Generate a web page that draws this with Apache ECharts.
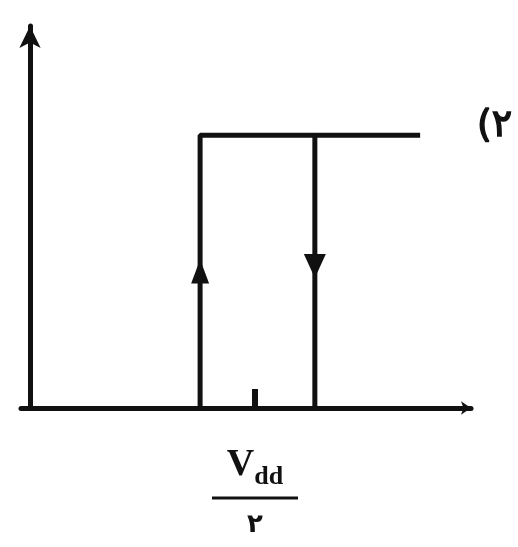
<!DOCTYPE html>
<html><head><meta charset="utf-8">
<script src="https://cdn.jsdelivr.net/npm/echarts@6/dist/echarts.min.js"></script>
<style>html,body{margin:0;padding:0;background:#fff}#c{width:518px;height:547px}</style>
</head><body><div id="c"></div>
<script>
// Data (fractions of Vdd)
const risingBranch = [[0.378, 0], [0.378, 1], [0.867, 1]];
const fallingBranch = [[0.633, 1], [0.633, 0]];
const arrowUp = [[0.378, 0.5]];
const arrowDown = [[0.633, 0.52]];
const tickValues = [0.5];
const tickNumerator = ['V', 'dd'];
const tickDenominator = ['۲'];
const cornerLabel = '(۲';

const ink = '#111';
const chart = echarts.init(document.getElementById('c'));
chart.setOption({
  backgroundColor: '#fff',
  animation: false,
  title: {
    text: cornerLabel, left: 472, top: 102,
    textStyle: { fontSize: 38, fontWeight: 'normal', color: ink, fontFamily: 'DejaVu Sans', textBorderColor: ink, textBorderWidth: 1.5 }
  },
  grid: { left: 21, right: 47, top: 26, bottom: 139 },
  xAxis: {
    type: 'value', min: -0.02, max: 0.98,
    splitLine: { show: false },
    axisLine: { onZero: true, symbol: ['none', 'arrow'], symbolSize: [10, 10], lineStyle: { color: ink, width: 5 } },
    axisTick: { show: true, inside: true, length: 19, customValues: tickValues, lineStyle: { color: ink, width: 6 } },
    axisLabel: {
      show: true, customValues: tickValues, margin: 40,
      formatter: function (v) {
        const i = tickValues.indexOf(v);
        if (i < 0) return '';
        return '{v|' + tickNumerator[0] + '}{d|' + tickNumerator[1] + '}\n{l|}\n{n|' + tickDenominator[i] + '}';
      },
      rich: {
        v: { fontFamily: 'Liberation Serif', fontWeight: 'bold', fontSize: 38, color: ink, lineHeight: 36, verticalAlign: 'bottom' },
        d: { fontFamily: 'Liberation Serif', fontWeight: 'bold', fontSize: 26, color: ink, lineHeight: 36, verticalAlign: 'bottom', padding: [0, 0, -6, 0] },
        l: { width: 86, height: 3, backgroundColor: ink, lineHeight: 28 },
        n: { fontFamily: 'DejaVu Sans', fontWeight: 'bold', fontSize: 26, color: ink, lineHeight: 26 }
      }
    }
  },
  yAxis: {
    type: 'value', min: 0, max: 1.4,
    splitLine: { show: false },
    axisLine: { onZero: true, symbol: ['none', 'arrow'], symbolSize: [16, 22], lineStyle: { color: ink, width: 5 } },
    axisTick: { show: false },
    axisLabel: { show: false }
  },
  series: [
    { type: 'line', data: risingBranch, showSymbol: false, lineStyle: { color: ink, width: 5 } },
    { type: 'line', data: fallingBranch, showSymbol: false, lineStyle: { color: ink, width: 5 } },
    { type: 'scatter', data: arrowUp, symbol: 'triangle', symbolSize: [18, 24], itemStyle: { color: ink, opacity: 1 } },
    { type: 'scatter', data: arrowDown, symbol: 'triangle', symbolRotate: 180, symbolSize: [22, 24], itemStyle: { color: ink, opacity: 1 } }
  ]
});
</script></body></html>
